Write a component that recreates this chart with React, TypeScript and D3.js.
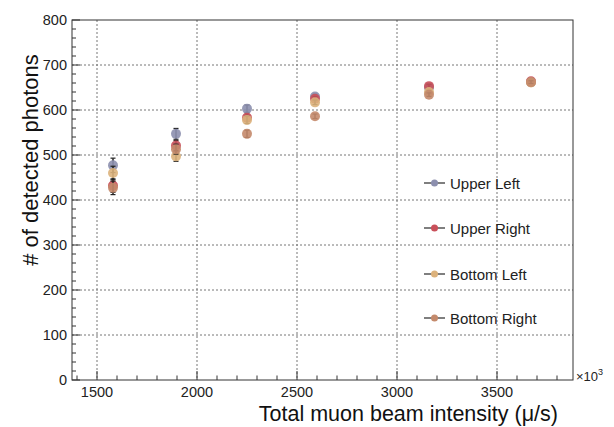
import React, { useEffect, useRef } from 'react';
import * as d3 from 'd3';

// beam intensity (x10^3 mu/s)
const intensity = [1580, 1895, 2250, 2590, 3160, 3670];

const upperLeft = [477, 547, 603, 630, 650, 662];
const upperRight = [432, 521, 583, 625, 653, 664];
const bottomLeft = [460, 497, 578, 617, 640, 661];
const bottomRight = [427, 513, 547, 586, 634, 662];

const errUL = [16, 12, 8, 5, 4, 3];
const errUR = [15, 11, 8, 5, 4, 3];
const errBL = [15, 11, 8, 5, 4, 3];
const errBR = [15, 11, 8, 5, 4, 3];

const seriesNames = ['Upper Left', 'Upper Right', 'Bottom Left', 'Bottom Right'];
const seriesColors = ['#8c8fae', '#c9505a', '#dcb27c', '#c48a6c'];

const xTicks = [1500, 2000, 2500, 3000, 3500];
const yTicks = [0, 100, 200, 300, 400, 500, 600, 700, 800];

function App() {
    const svgRef = useRef(null);

    useEffect(() => {
        if (!svgRef.current) return;
        const svg = d3.select(svgRef.current);
        svg.selectAll('*').remove();

        const left = 72, right = 573, top = 20, bottom = 380;
        const font = 'Liberation Sans, Arial, sans-serif';

        const x = d3.scaleLinear().domain([1375, 3880]).range([left, right]);
        const y = d3.scaleLinear().domain([0, 800]).range([bottom, top]);

        // grid
        const grid = svg.append('g').attr('stroke', '#777').attr('stroke-width', 1).attr('stroke-dasharray', '2,2');
        xTicks.forEach(t => {
            grid.append('line').attr('x1', x(t)).attr('x2', x(t)).attr('y1', top).attr('y2', bottom);
        });
        yTicks.filter(t => t > 0 && t < 800).forEach(t => {
            grid.append('line').attr('x1', left).attr('x2', right).attr('y1', y(t)).attr('y2', y(t));
        });

        // frame
        svg.append('rect')
            .attr('x', left).attr('y', top)
            .attr('width', right - left).attr('height', bottom - top)
            .attr('fill', 'none').attr('stroke', '#333').attr('stroke-width', 1);

        // y ticks (inward)
        const yMinor = d3.range(0, 801, 20);
        svg.append('g').selectAll('line').data(yMinor).join('line')
            .attr('x1', left).attr('x2', d => left + (d % 100 === 0 ? 8 : 4))
            .attr('y1', d => y(d)).attr('y2', d => y(d))
            .attr('stroke', '#333');
        svg.append('g').selectAll('text').data(yTicks).join('text')
            .attr('x', left - 5).attr('y', d => y(d) + 5)
            .attr('text-anchor', 'end')
            .attr('font-family', font).attr('font-size', 14.5).attr('fill', '#222')
            .text(d => d);

        // x ticks (inward)
        const xMinor = d3.range(1400, 3801, 100);
        svg.append('g').selectAll('line').data(xMinor).join('line')
            .attr('x1', d => x(d)).attr('x2', d => x(d))
            .attr('y1', bottom).attr('y2', d => bottom - (d % 500 === 0 ? 9 : 4.5))
            .attr('stroke', '#333');
        svg.append('g').selectAll('text').data(xTicks).join('text')
            .attr('x', d => x(d)).attr('y', bottom + 17)
            .attr('text-anchor', 'middle')
            .attr('font-family', font).attr('font-size', 14.5).attr('fill', '#222')
            .text(d => d);

        const exp = svg.append('text')
            .attr('x', right + 3).attr('y', bottom + 1)
            .attr('font-family', font).attr('font-size', 13).attr('fill', '#222');
        exp.append('tspan').text('×10');
        exp.append('tspan').attr('font-size', 9).attr('dy', -6).text('3');

        // axis titles
        svg.append('text')
            .attr('x', 558).attr('y', 421)
            .attr('text-anchor', 'end')
            .attr('font-family', font).attr('font-size', 21.5).attr('fill', '#111')
            .text('Total muon beam intensity (μ/s)');

        svg.append('text')
            .attr('transform', `translate(38, 160) rotate(-90)`)
            .attr('text-anchor', 'middle')
            .attr('font-family', font).attr('font-size', 22).attr('fill', '#111')
            .text('# of detected photons');

        // data
        const series = [upperLeft, upperRight, bottomLeft, bottomRight];
        const errors = [errUL, errUR, errBL, errBR];
        series.forEach((vals, si) => {
            const g = svg.append('g');
            vals.forEach((v, i) => {
                const cx = x(intensity[i]);
                const e = errors[si][i];
                g.append('line')
                    .attr('x1', cx).attr('x2', cx)
                    .attr('y1', y(v + e)).attr('y2', y(v - e))
                    .attr('stroke', '#222').attr('stroke-width', 1.5);
                [v + e, v - e].forEach(c => {
                    g.append('line')
                        .attr('x1', cx - 2.5).attr('x2', cx + 2.5)
                        .attr('y1', y(c)).attr('y2', y(c))
                        .attr('stroke', '#222').attr('stroke-width', 1.2);
                });
            });
            g.selectAll('circle').data(vals).join('circle')
                .attr('cx', (d, i) => x(intensity[i]))
                .attr('cy', d => y(d))
                .attr('r', 5)
                .attr('fill', seriesColors[si])
                .attr('fill-opacity', 0.9);
        });

        // legend
        const legendY = [183, 228, 274, 318];
        seriesNames.forEach((name, i) => {
            const g = svg.append('g').attr('transform', `translate(0, ${legendY[i]})`);
            g.append('line').attr('x1', 424).attr('x2', 445).attr('y1', 0).attr('y2', 0)
                .attr('stroke', '#555').attr('stroke-width', 1.5);
            g.append('circle').attr('cx', 434.5).attr('cy', 0).attr('r', 3.5).attr('fill', seriesColors[i]);
            g.append('text').attr('x', 450).attr('y', 5.5)
                .attr('font-family', font).attr('font-size', 15).attr('fill', '#222')
                .text(name);
        });
    }, []);

    return (
        <svg ref={svgRef} width={614} height={427}
            style={{ position: 'absolute', left: 0, top: 0, background: '#fff' }} />
    );
}

export default App;
